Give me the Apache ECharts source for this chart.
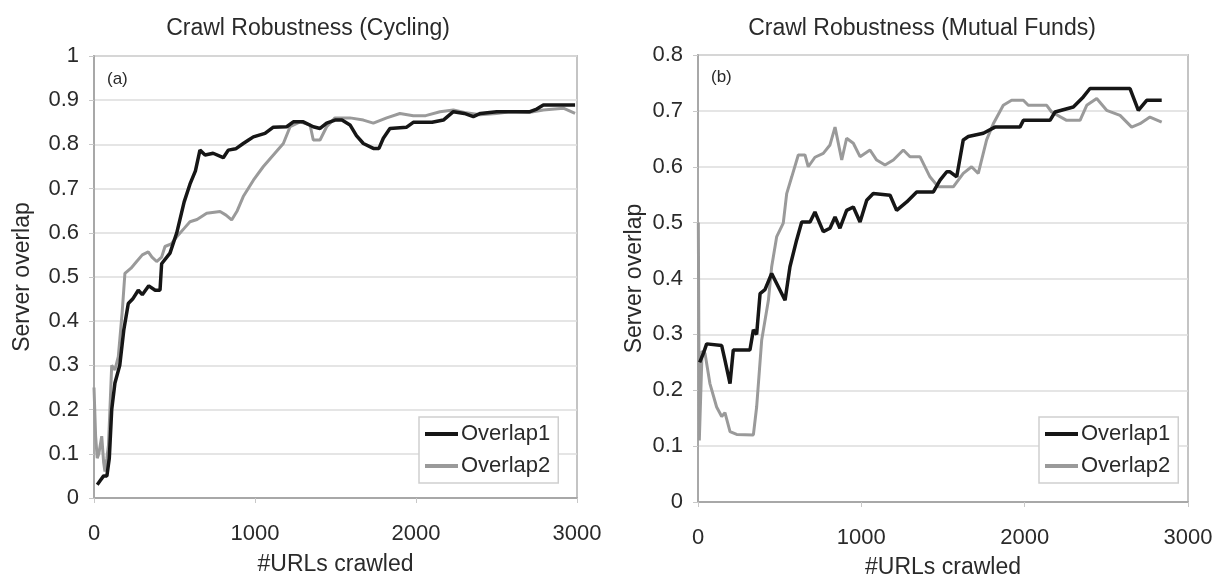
<!DOCTYPE html>
<html>
<head>
<meta charset="utf-8">
<script src="https://cdn.jsdelivr.net/npm/echarts@6/dist/echarts.min.js"></script>
<style>
html,body{margin:0;padding:0;background:#fff;}
#c{width:1218px;height:576px;}
</style>
</head>
<body>
<div id="c"></div>
<script>
// ---- Data ----
const titles = ['Crawl Robustness (Cycling)', 'Crawl Robustness (Mutual Funds)'];
const panelLabels = ['(a)', '(b)'];
const seriesNames = ['Overlap1', 'Overlap2'];
const xAxisName = '#URLs crawled';
const yAxisName = 'Server overlap';

// (a) Cycling
const cycO1X = [20, 40, 60, 80, 95, 110, 130, 160, 185, 213, 240, 275, 300, 340, 380, 410, 420, 472, 514, 560, 596, 630, 658, 690, 740, 803, 834, 880, 927, 960, 990, 1062, 1114, 1197, 1238, 1300, 1362, 1404, 1445, 1497, 1540, 1590, 1630, 1673, 1735, 1770, 1797, 1838, 1942, 1983, 2100, 2170, 2232, 2300, 2356, 2400, 2501, 2600, 2708, 2750, 2791, 2900, 2988];
const cycO1Y = [0.03, 0.04, 0.05, 0.05, 0.09, 0.2, 0.26, 0.3, 0.38, 0.44, 0.45, 0.47, 0.46, 0.48, 0.47, 0.47, 0.53, 0.554, 0.6, 0.67, 0.71, 0.74, 0.787, 0.776, 0.78, 0.77, 0.787, 0.79, 0.802, 0.81, 0.817, 0.825, 0.839, 0.84, 0.851, 0.851, 0.84, 0.836, 0.848, 0.855, 0.855, 0.844, 0.82, 0.802, 0.791, 0.791, 0.814, 0.836, 0.839, 0.85, 0.85, 0.855, 0.874, 0.87, 0.863, 0.87, 0.874, 0.874, 0.874, 0.88, 0.889, 0.889, 0.889];
const cycO2X = [0, 10, 20, 30, 48, 60, 68, 80, 90, 110, 130, 151, 175, 192, 230, 265, 300, 337, 360, 389, 420, 441, 480, 514, 560, 596, 640, 700, 783, 820, 855, 890, 927, 990, 1052, 1114, 1176, 1218, 1280, 1342, 1362, 1404, 1445, 1497, 1590, 1673, 1735, 1818, 1900, 1983, 2060, 2149, 2232, 2300, 2398, 2500, 2584, 2700, 2791, 2915, 2988];
const cycO2Y = [0.25, 0.14, 0.09, 0.1, 0.14, 0.08, 0.06, 0.09, 0.12, 0.3, 0.29, 0.32, 0.42, 0.508, 0.52, 0.535, 0.55, 0.557, 0.545, 0.535, 0.545, 0.569, 0.575, 0.591, 0.61, 0.625, 0.63, 0.644, 0.648, 0.64, 0.629, 0.65, 0.682, 0.719, 0.75, 0.776, 0.802, 0.84, 0.851, 0.844, 0.81, 0.81, 0.84, 0.86, 0.86, 0.855, 0.848, 0.86, 0.87, 0.865, 0.865, 0.874, 0.878, 0.872, 0.867, 0.87, 0.874, 0.872, 0.878, 0.882, 0.87];

// (b) Mutual Funds
const mfO1X = [10, 33, 53, 145, 165, 196, 216, 318, 339, 359, 380, 410, 451, 533, 563, 604, 635, 686, 716, 767, 808, 839, 869, 910, 951, 992, 1033, 1073, 1176, 1216, 1278, 1339, 1441, 1482, 1523, 1543, 1584, 1624, 1655, 1747, 1818, 1971, 1992, 2155, 2186, 2298, 2359, 2400, 2645, 2696, 2747, 2839];
const mfO1Y = [0.25, 0.266, 0.283, 0.28, 0.254, 0.212, 0.272, 0.272, 0.308, 0.30, 0.373, 0.38, 0.409, 0.361, 0.421, 0.469, 0.501, 0.501, 0.519, 0.484, 0.49, 0.51, 0.49, 0.522, 0.528, 0.501, 0.54, 0.552, 0.549, 0.522, 0.537, 0.555, 0.555, 0.576, 0.591, 0.591, 0.582, 0.648, 0.654, 0.66, 0.671, 0.671, 0.683, 0.683, 0.698, 0.707, 0.725, 0.74, 0.74, 0.701, 0.719, 0.719];
const mfO2X = [2, 8, 25, 43, 73, 114, 145, 165, 196, 237, 339, 359, 390, 431, 451, 482, 522, 543, 574, 614, 655, 675, 716, 767, 808, 839, 880, 910, 951, 992, 1053, 1094, 1145, 1196, 1257, 1298, 1359, 1420, 1471, 1563, 1624, 1675, 1716, 1767, 1808, 1869, 1920, 1992, 2022, 2135, 2165, 2257, 2339, 2380, 2441, 2502, 2584, 2655, 2706, 2767, 2839];
const mfO2Y = [0.5, 0.11, 0.27, 0.266, 0.212, 0.17, 0.153, 0.16, 0.126, 0.121, 0.12, 0.17, 0.29, 0.361, 0.421, 0.475, 0.499, 0.552, 0.582, 0.621, 0.621, 0.6, 0.617, 0.624, 0.639, 0.671, 0.612, 0.651, 0.642, 0.618, 0.63, 0.612, 0.603, 0.612, 0.63, 0.618, 0.618, 0.582, 0.564, 0.564, 0.588, 0.6, 0.588, 0.648, 0.677, 0.71, 0.719, 0.719, 0.71, 0.71, 0.698, 0.683, 0.683, 0.71, 0.722, 0.701, 0.692, 0.671, 0.677, 0.689, 0.68];

const xMin = 0, xMax = 3000, xInterval = 1000;
const yMaxA = 1, yMaxB = 0.8, yInterval = 0.1;

// ---- Build chart ----
const pairs = (xs, ys) => xs.map((x, i) => [x, ys[i]]);
const FONT = 'Liberation Sans, Arial, sans-serif';
const TXT = '#2a2a2a';
const C1 = '#161616', C2 = '#9a9a9a';

function xAxisCfg(gi, gap) {
  return {
    type: 'value', gridIndex: gi, min: xMin, max: xMax, interval: xInterval,
    name: xAxisName, nameLocation: 'middle', nameGap: gap,
    nameTextStyle: { fontFamily: FONT, fontSize: 23, color: TXT },
    axisLine: { show: true, lineStyle: { color: '#a8a8a8', width: 2 } },
    axisTick: { show: true, inside: false, length: 5, lineStyle: { color: '#c8c8c8' } },
    axisLabel: { fontFamily: FONT, fontSize: 22, color: TXT, margin: 25,
      formatter: v => String(v) },
    splitLine: { show: false }
  };
}
function yAxisCfg(gi, max, gap) {
  return {
    type: 'value', gridIndex: gi, min: 0, max: max, interval: yInterval,
    name: yAxisName, nameLocation: 'middle', nameGap: gap,
    nameTextStyle: { fontFamily: FONT, fontSize: 23, color: TXT },
    axisLine: { show: true, lineStyle: { color: '#a8a8a8', width: 2 } },
    axisTick: { show: true, inside: false, length: 5, lineStyle: { color: '#c8c8c8' } },
    axisLabel: { fontFamily: FONT, fontSize: 22, color: TXT, margin: 15,
      formatter: v => String(Math.round(v * 10) / 10) },
    splitLine: { show: true, lineStyle: { color: '#dcdcdc', width: 1.5 } }
  };
}
function lineSeries(name, xi, yi, data, color, width, z) {
  return {
    name, type: 'line', xAxisIndex: xi, yAxisIndex: yi, data,
    showSymbol: false, symbol: 'none', smooth: false, z,
    lineStyle: { color, width }, itemStyle: { color }
  };
}
function legendCfg(left) {
  return {
    orient: 'vertical', left: left, top: 417,
    data: [
      { name: seriesNames[0], icon: 'rect', itemStyle: { color: C1 } },
      { name: seriesNames[1], icon: 'rect', itemStyle: { color: C2 } }
    ],
    itemWidth: 33, itemHeight: 4, itemGap: 10,
    padding: [6, 8, 6, 6],
    backgroundColor: '#fff', borderColor: '#cfcfcf', borderWidth: 1.5,
    textStyle: { fontFamily: FONT, fontSize: 22, color: TXT, padding: [0, 0, 0, -2], lineHeight: 22 },
    selectedMode: false
  };
}
const gridBase = { show: true, borderColor: '#c4c4c4', borderWidth: 2, backgroundColor: 'transparent',
  containLabel: false, outerBoundsMode: 'none' };

const chart = echarts.init(document.getElementById('c'), null, { renderer: 'canvas' });
chart.setOption({
  backgroundColor: '#fff',
  animation: false,
  title: [
    { text: titles[0], left: 303, top: 12, textAlign: 'center',
      textStyle: { fontFamily: FONT, fontSize: 23, fontWeight: 'normal', color: TXT } },
    { text: titles[1], left: 917, top: 12, textAlign: 'center',
      textStyle: { fontFamily: FONT, fontSize: 23, fontWeight: 'normal', color: TXT } },
    { text: panelLabels[0], left: 102, top: 66,
      textStyle: { fontFamily: FONT, fontSize: 17, fontWeight: 'normal', color: TXT } },
    { text: panelLabels[1], left: 706, top: 64,
      textStyle: { fontFamily: FONT, fontSize: 17, fontWeight: 'normal', color: TXT } }
  ],
  grid: [
    Object.assign({ left: 94, top: 56, width: 483, height: 442 }, gridBase),
    Object.assign({ left: 698, top: 55, width: 490, height: 447 }, gridBase)
  ],
  legend: [legendCfg(419), legendCfg(1039)],
  xAxis: [xAxisCfg(0, 55), xAxisCfg(1, 54)],
  yAxis: [yAxisCfg(0, yMaxA, 60), yAxisCfg(1, yMaxB, 52)],
  series: [
    lineSeries(seriesNames[1], 0, 0, pairs(cycO2X, cycO2Y), C2, 3, 2),
    lineSeries(seriesNames[0], 0, 0, pairs(cycO1X, cycO1Y), C1, 3.5, 3),
    lineSeries(seriesNames[1], 1, 1, pairs(mfO2X, mfO2Y), C2, 3, 2),
    lineSeries(seriesNames[0], 1, 1, pairs(mfO1X, mfO1Y), C1, 3.5, 3)
  ]
});
</script>
</body>
</html>
